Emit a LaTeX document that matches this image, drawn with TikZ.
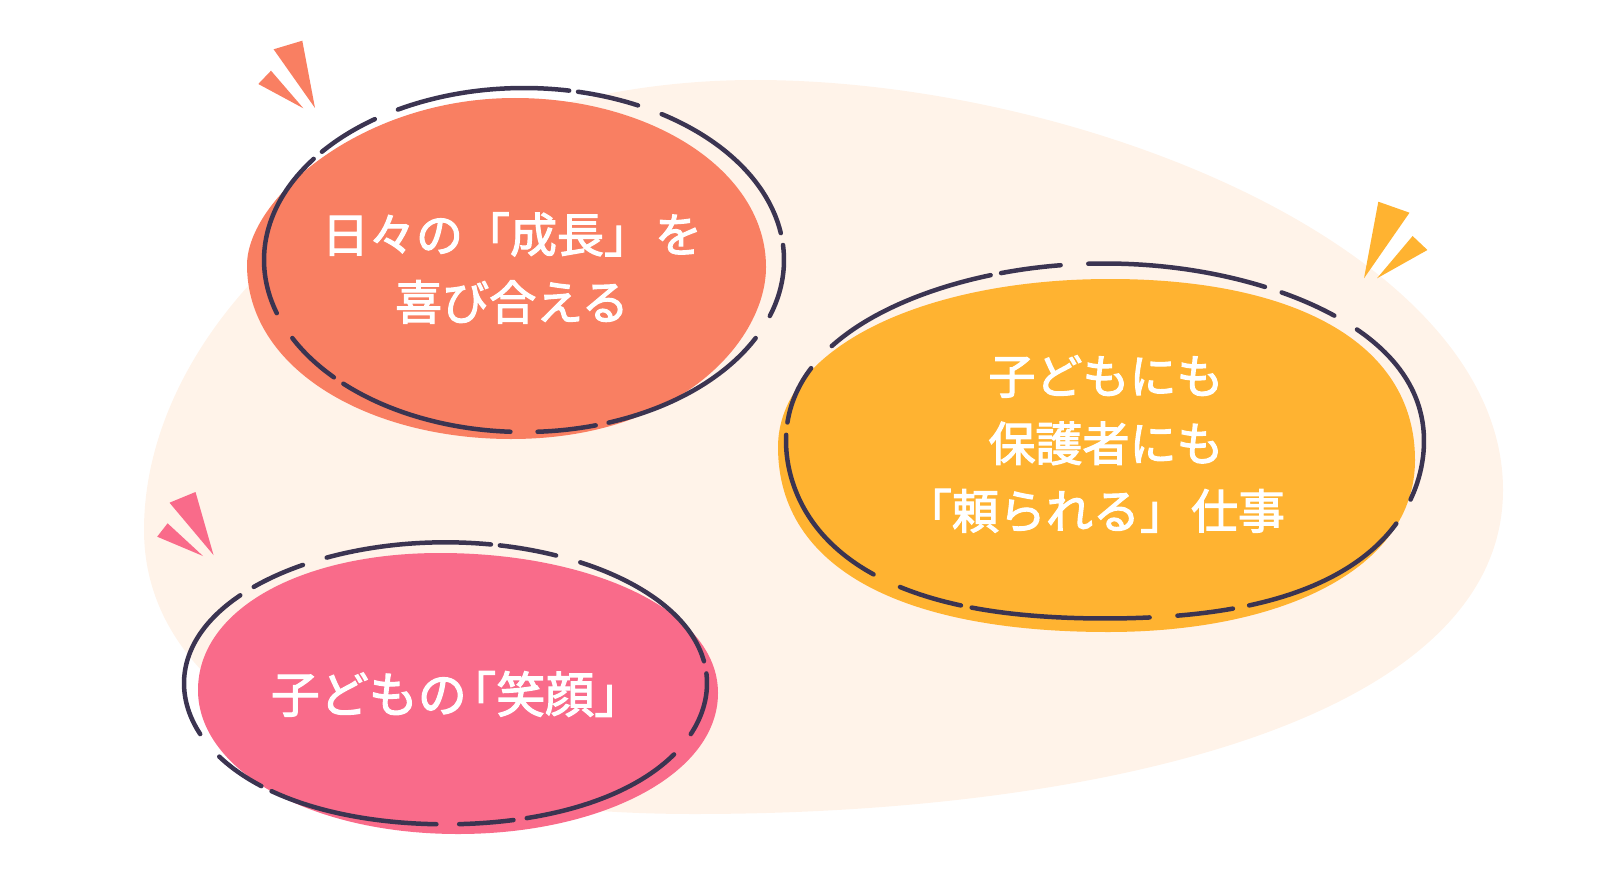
\documentclass[tikz,border=0pt]{standalone}
\usepackage{fontspec}
\setmainfont[FakeBold=2.4]{Noto Sans CJK JP}
\definecolor{cream}{HTML}{FFF3E9}
\definecolor{coral}{HTML}{F97F62}
\definecolor{amber}{HTML}{FFB331}
\definecolor{rose}{HTML}{F96B8A}
\definecolor{ink}{HTML}{3B3451}
\tikzset{
  dashline/.style={draw=ink,line width=4.5pt,line cap=round},
  ovaltext/.style={text=white,align=center,inner sep=0pt,font=\fontsize{47}{67.5}\selectfont}
}
\newcommand{\ovaldashes}[6]{
  \foreach \from/\to in {#6}
    \draw[dashline] plot[domain=\from:\to,samples=24,smooth]
      ({#1+#3*cos(\x)*(1+#5*sin(2*\x)^2*(1+sin(\x)))},{#2+#4*sin(\x)*(1+#5*sin(2*\x)^2*(1+sin(\x)))});
}
\begin{document}
\begin{tikzpicture}[x=1pt,y=-1pt]
  \useasboundingbox (0,0) rectangle (1600,880);

  \fill[cream] (755,80) .. controls (1080,80) and (1503,250) .. (1503,490)
    .. controls (1503,720) and (1100,814) .. (694,814)
    .. controls (350,814) and (144,700) .. (144,530)
    .. controls (144,310) and (400,80) .. (755,80) -- cycle;

  \fill[coral] (515,98) .. controls (650,98) and (766,170) .. (766,267)
    .. controls (766,340) and (680,439) .. (511,439)
    .. controls (370,439) and (247,370) .. (247,265)
    .. controls (247,200) and (360,98) .. (515,98) -- cycle;
  \fill[amber] (1110,279) .. controls (1290,279) and (1415,340) .. (1415,460)
    .. controls (1415,570) and (1280,632) .. (1108,632)
    .. controls (905,632) and (778,570) .. (778,447)
    .. controls (778,350) and (920,279) .. (1110,279) -- cycle;
  \fill[rose] (440,553) .. controls (590,553) and (718,610) .. (718,693)
    .. controls (718,775) and (600,834) .. (458,834)
    .. controls (310,834) and (198,770) .. (198,690)
    .. controls (198,610) and (300,553) .. (440,553) -- cycle;

  \fill[coral] (273.6,49.3) -- (302.3,40.7) -- (315,108) -- cycle;
  \fill[coral] (258.3,84) -- (271,70.7) -- (303.4,108.3) -- cycle;
  \fill[amber] (1378.3,201.7) -- (1409.5,212.7) -- (1364,278.3) -- cycle;
  \fill[amber] (1412.6,236) -- (1427.4,250) -- (1377,278.3) -- cycle;
  \fill[rose] (169.5,502.7) -- (195.5,492) -- (213.5,555) -- cycle;
  \fill[rose] (157.2,536.7) -- (167.6,523.3) -- (203,556) -- cycle;

  \ovaldashes{524}{260}{260}{172}{0}{241/280,282/296,302/351,355/379,27/71,74/87,93/134,137/153,162/216,219/235}
  \ovaldashes{1105}{441}{319}{177.5}{0.026}{212/249,251/262,267/300,303.5/315.5,321.5/379,27/64,67/77,82/114,116/128,134/182,186/204}
  \ovaldashes{445.5}{683.3}{261.5}{141}{0.008}{243/280,282/295,301/351,356/381,30/72,75/87,92/131,134/149,159/218.5,223/237}

  \node [ovaltext] (joy) at (512,268) {日々の「成長」\kern4pt を\\喜び合える};
  \node [ovaltext] (trust) at (1106,444) {子どもにも\\保護者にも\\「頼られる」\kern4pt 仕事\kern22pt};
  \node [ovaltext,font=\fontsize{49}{67.5}\selectfont] (smile) at (457,694) {子どもの\kern-.4em「笑顔」};
\end{tikzpicture}
\end{document}
